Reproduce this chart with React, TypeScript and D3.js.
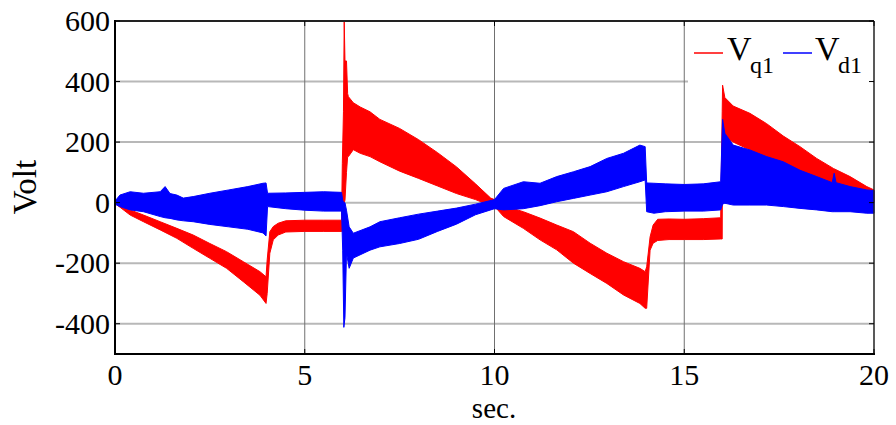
import React from "react";
import * as d3 from "d3";

// Time axis (s) and noise envelopes (V) of the q-axis voltage Vq1
const timeQ = [
  0, 0.13, 0.4, 0.75, 1.19, 1.63, 2.06, 2.5, 2.94, 3.38, 3.82, 3.98, 4.01, 4.08, 4.17, 4.3, 4.5, 5.0, 5.5, 5.97,
  5.99, 6.02, 6.04, 6.06, 6.1, 6.13, 6.15, 6.28, 6.46, 6.72, 6.98, 7.5, 8.0, 8.5, 9.0, 9.5, 9.9, 10.0,
  10.24, 10.76, 11.2, 11.64, 12.08, 12.52, 12.96, 13.4, 13.83, 13.97, 14.01, 14.1, 14.18, 14.3, 14.6, 15.0, 15.5, 15.96,
  16.0, 16.01, 16.07, 16.29, 16.73, 17.17, 17.61, 18.05, 18.49, 18.93, 19.37, 19.81, 20,
];
const vqLower = [
  -3, -15, -41, -63, -90, -118, -151, -184, -217, -261, -306, -333, -300, -167, -123, -107, -97, -95, -95, -95,
  -95, -40, 0, 8, 100, 152, 152, 175, 163, 152, 135, 104, 80, 55, 30, 10, -10, -12,
  -46, -85, -123, -156, -200, -234, -267, -305, -333, -349, -349, -157, -134, -125, -122, -122, -122, -120,
  -120, 230, 217, 200, 174, 141, 108, 75, 53, 31, 15, 5, 0,
];
const vqUpper = [
  3, -10, -24, -41, -63, -85, -107, -135, -162, -195, -228, -245, -189, -96, -79, -68, -60, -58, -58, -58,
  130, 300, 600, 468, 468, 360, 350, 330, 316, 300, 275, 245, 208, 165, 118, 62, 15, 10,
  -10, -30, -51, -74, -96, -134, -167, -195, -217, -228, -212, -113, -74, -55, -54, -55, -53, -50,
  300, 388, 347, 319, 295, 261, 220, 185, 146, 113, 86, 53, 42,
];

// Time axis (s) and noise envelopes (V) of the d-axis voltage Vd1
const timeD = [
  0, 0.13, 0.4, 0.75, 1.19, 1.32, 1.45, 1.63, 1.8, 2.06, 2.5, 3.0, 3.5, 3.9, 3.98, 4.02, 4.5, 5.0, 5.5, 5.97,
  6.0, 6.03, 6.06, 6.1, 6.17, 6.28, 6.72, 6.98, 7.5, 8.0, 8.5, 9.0, 9.5, 10.0,
  10.24, 10.76, 11.2, 11.64, 12.08, 12.52, 12.96, 13.4, 13.83, 13.97, 14.01, 14.2, 14.5, 15.0, 15.5, 15.96,
  16.01, 16.07, 16.29, 16.73, 17.17, 17.61, 18.05, 18.49, 18.9, 18.95, 19.0, 19.37, 19.81, 20,
];
const vdLower = [
  -5, -13, -24, -30, -46, -50, -52, -57, -60, -63, -72, -80, -88, -100, -110, -13, -20, -25, -28, -28,
  -157, -412, -380, -167, -217, -183, -157, -146, -135, -121, -95, -71, -40, -20,
  -24, -20, -10, 3, 14, 25, 36, 53, 69, 75, -30, -35, -30, -28, -28, -24,
  -5, -2, -8, -8, -8, -13, -19, -24, -30, -30, -30, -30, -35, -35,
];
const vdUpper = [
  5, 25, 36, 31, 36, 53, 30, 25, 15, 20, 31, 42, 53, 64, 65, 31, 32, 34, 36, 34,
  8, 0, 0, -25, -80, -101, -80, -63, -50, -38, -28, -18, -5, 10,
  47, 69, 64, 86, 102, 119, 146, 163, 190, 185, 65, 64, 62, 60, 62, 69,
  275, 229, 190, 174, 152, 135, 107, 86, 66, 97, 66, 53, 42, 40,
];

const xTicks = [0, 5, 10, 15, 20];
const yTicks = [-400, -200, 0, 200, 400, 600];
const gridX = [5, 10, 15];
const gridY = [-400, -200, 0, 200, 400];

const W = 896;
const H = 425;
const left = 115;
const right = 874;
const top = 21;
const bottom = 354;
const font = "Liberation Serif, Times New Roman, serif";

export default function App() {
  const x = d3.scaleLinear().domain([0, 20]).range([left, right]);
  const y = d3.scaleLinear().domain([-500, 600]).range([bottom, top]);

  const band = (t: number[], lo: number[], hi: number[]) =>
    d3
      .area<number>()
      .x((i) => x(t[i]))
      .y0((i) => y(lo[i]))
      .y1((i) => y(hi[i]))(d3.range(t.length)) || "";

  const qPath = band(timeQ, vqLower, vqUpper);
  const dPath = band(timeD, vdLower, vdUpper);

  return (
    <svg
      width={W}
      height={H}
      style={{ position: "absolute", left: 0, top: 0, background: "#fff", fontFamily: font }}
    >
      <rect width={W} height={H} fill="#fff" />
      {/* grid */}
      {gridY.map((v) => (
        <line key={"gy" + v} x1={left} x2={right} y1={y(v)} y2={y(v)} stroke="#b8b8b8" strokeWidth={2} />
      ))}
      {gridX.map((v) => (
        <line key={"gx" + v} x1={x(v)} x2={x(v)} y1={top} y2={bottom} stroke="#707070" strokeWidth={1} />
      ))}

      {/* signals */}
      <path d={qPath} fill="#ff0000" stroke="#ff0000" strokeWidth={1} strokeLinejoin="round" />
      <path d={dPath} fill="#0000ff" stroke="#0000ff" strokeWidth={1} strokeLinejoin="round" />

      {/* legend */}
      <rect x={688} y={22} width={185} height={62} fill="#fff" />
      <line x1={694} x2={723} y1={53} y2={53} stroke="#ff0000" strokeWidth={1.5} />
      <text x={727} y={60} fontSize={34} fill="#000">V</text>
      <text x={750} y={73} fontSize={24} fill="#000">q1</text>
      <line x1={783} x2={812} y1={53} y2={53} stroke="#0000ff" strokeWidth={1.5} />
      <text x={815} y={60} fontSize={34} fill="#000">V</text>
      <text x={838} y={73} fontSize={24} fill="#000">d1</text>

      {/* frame */}
      <line x1={left} x2={right} y1={top} y2={top} stroke="#222" strokeWidth={2} />
      <line x1={right} x2={right} y1={top} y2={bottom} stroke="#222" strokeWidth={1.5} />
      <line x1={left} x2={left} y1={top - 1} y2={bottom + 1} stroke="#000" strokeWidth={2} />
      <line x1={left - 1} x2={right + 1} y1={bottom} y2={bottom} stroke="#000" strokeWidth={2} />

      {/* ticks */}
      {yTicks.map((v) => (
        <g key={"ty" + v}>
          <line x1={left} x2={left + 5} y1={y(v)} y2={y(v)} stroke="#000" strokeWidth={1} />
          <line x1={right - 5} x2={right} y1={y(v)} y2={y(v)} stroke="#000" strokeWidth={1} />
          <text x={110} y={y(v) + 10} fontSize={30} textAnchor="end" fill="#000">
            {v}
          </text>
        </g>
      ))}
      {xTicks.map((v) => (
        <g key={"tx" + v}>
          <line x1={x(v)} x2={x(v)} y1={bottom} y2={bottom - 5} stroke="#000" strokeWidth={1} />
          <line x1={x(v)} x2={x(v)} y1={top} y2={top + 5} stroke="#000" strokeWidth={1} />
          <text x={x(v)} y={385} fontSize={30} textAnchor="middle" fill="#000">
            {v}
          </text>
        </g>
      ))}

      {/* axis titles */}
      <text x={494} y={418} fontSize={29} textAnchor="middle" fill="#000">sec.</text>
      <text
        transform={`translate(36,187) rotate(-90)`}
        fontSize={33}
        textAnchor="middle"
        fill="#000"
      >
        Volt
      </text>
    </svg>
  );
}
